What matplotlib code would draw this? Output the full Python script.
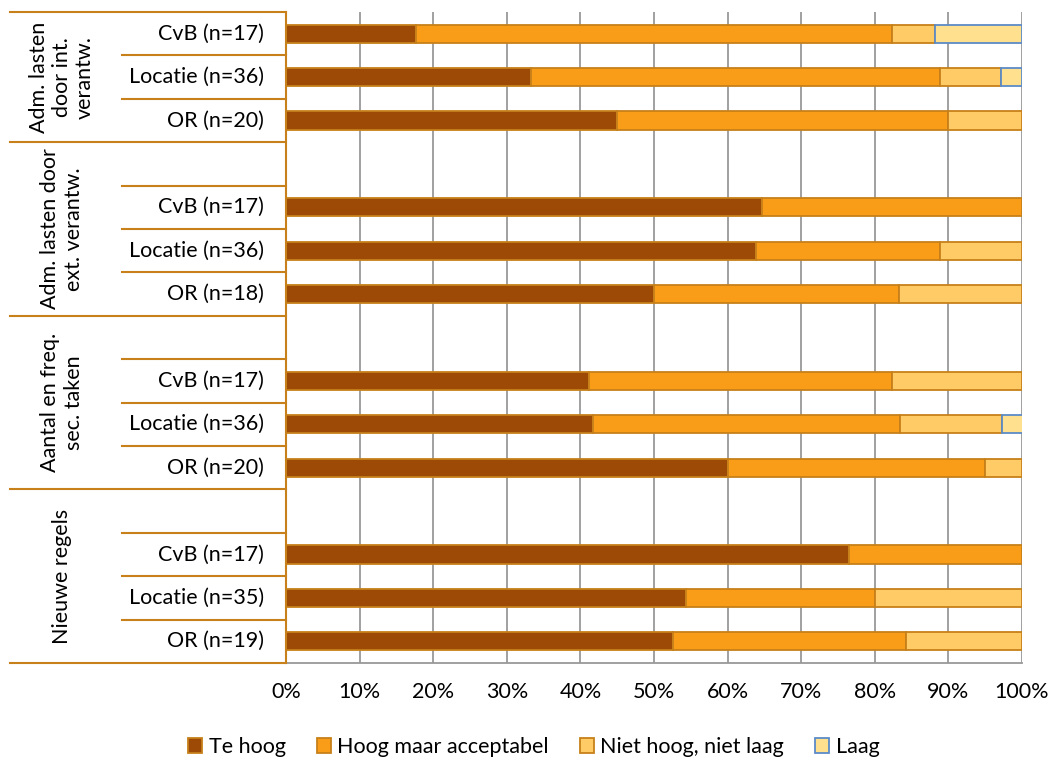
import numpy as np
import matplotlib
matplotlib.use("Agg")
import matplotlib.pyplot as plt
from matplotlib.transforms import blended_transform_factory
from matplotlib.patches import Patch

plt.rcParams['font.family'] = ['Lato', 'DejaVu Sans']

# rijen van boven naar onder ('' = lege rij)
row_labels = ['CvB (n=17)', 'Locatie (n=36)', 'OR (n=20)',
              '', 'CvB (n=17)', 'Locatie (n=36)', 'OR (n=18)',
              '', 'CvB (n=17)', 'Locatie (n=36)', 'OR (n=20)',
              '', 'CvB (n=17)', 'Locatie (n=35)', 'OR (n=19)']

group_labels = ['Adm. lasten\ndoor int.\nverantw.',
                'Adm. lasten door\next. verantw.',
                'Aantal en freq.\nsec. taken',
                'Nieuwe regels']
group_rows = [(0, 2), (3, 6), (7, 10), (11, 14)]

series = ['Te hoog', 'Hoog maar acceptabel', 'Niet hoog, niet laag', 'Laag']

# percentages per rij
te_hoog = [17.6, 33.3, 45.0, 0, 64.7, 63.9, 50.0, 0, 41.2, 41.7, 60.0, 0, 76.5, 54.3, 52.6]
hoog_acc = [64.7, 55.6, 45.0, 0, 35.3, 25.0, 33.3, 0, 41.2, 41.7, 35.0, 0, 23.5, 25.7, 31.6]
niet = [5.9, 8.3, 10.0, 0, 0, 11.1, 16.7, 0, 17.6, 13.9, 5.0, 0, 0, 20.0, 15.8]
laag = [11.8, 2.8, 0, 0, 0, 0, 0, 0, 0, 2.8, 0, 0, 0, 0, 0]

face = ['#9C4A06', '#F99C17', '#FFCB66', '#FFE08E']
edge = ['#C7801A', '#C7801A', '#C7801A', '#5B8BC8']
axis_col = '#C7801A'
fs = 15.5

fig = plt.figure(figsize=(10.55, 7.63), dpi=100)
ax = fig.add_axes([286 / 1055, 1 - 663 / 763, 736 / 1055, 651 / 763])

y = np.arange(len(row_labels))
left = np.zeros(len(row_labels))
for vals, fc, ec in zip([te_hoog, hoog_acc, niet, laag], face, edge):
    vals = np.array(vals, dtype=float)
    mask = vals > 0
    ax.barh(y[mask], vals[mask], left=left[mask], height=0.42,
            color=fc, edgecolor=ec, linewidth=1.3, zorder=3)
    left += vals

ax.set_xlim(0, 100)
ax.set_ylim(len(row_labels) - 0.5, -0.5)
ax.set_xticks(np.arange(0, 101, 10))
ax.set_xticklabels([f'{v}%' for v in range(0, 101, 10)], fontsize=fs)
ax.tick_params(axis='x', length=0, pad=14)
ax.set_yticks([])
ax.grid(axis='x', color='#999999', linewidth=1.3, zorder=0)
for s in ['top', 'right']:
    ax.spines[s].set_visible(False)
ax.spines['bottom'].set_color('#999999')
ax.spines['bottom'].set_linewidth(1.3)
ax.spines['left'].set_color(axis_col)
ax.spines['left'].set_linewidth(1.5)
ax.spines['left'].set_zorder(4)

# categorie-as met twee niveaus
tr = blended_transform_factory(ax.transAxes, ax.transData)
x_outer = (10 - 286) / 736
x_inner = (122 - 286) / 736
group_edges = set()
for a, b in group_rows:
    group_edges.add(a - 0.5)
    group_edges.add(b + 0.5)
for k in range(len(row_labels) + 1):
    yy = k - 0.5
    x0 = x_outer if yy in group_edges else x_inner
    ax.plot([x0, 0], [yy, yy], color=axis_col, linewidth=1.5,
            transform=tr, clip_on=False, zorder=4)

for i, lab in enumerate(row_labels):
    if lab:
        ax.text(-0.03, i, lab, transform=tr, ha='right', va='center', fontsize=fs)

for lab, (a, b) in zip(group_labels, group_rows):
    ax.text((62 - 286) / 736, (a + b) / 2, lab, transform=tr, rotation=90,
            ha='center', va='center', multialignment='center', fontsize=fs,
            linespacing=1.2)

handles = [Patch(facecolor=fc, edgecolor=ec, linewidth=1.3) for fc, ec in zip(face, edge)]
fig.legend(handles, series, loc='center', bbox_to_anchor=(0.506, 1 - 747 / 763),
           ncol=4, frameon=False, fontsize=fs, handlelength=0.65, handleheight=0.65,
           handletextpad=0.3, columnspacing=1.45)

fig.savefig('out.png', dpi=100)
